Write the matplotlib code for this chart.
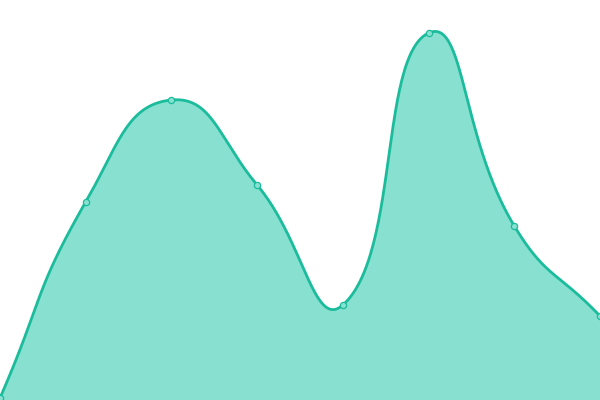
import numpy as np
import matplotlib
matplotlib.use("Agg")
import matplotlib.pyplot as plt

# Data (y-range 0..400)
categories = list(range(8))
values = [2, 198, 300, 215, 95, 367, 174, 84]

LINE = "#1abc9c"
FILL = "#88e0d0"

W, H = 600, 400
fig = plt.figure(figsize=(W / 100, H / 100), dpi=100)
ax = fig.add_axes([0, 0, 1, 1])
ax.set_xlim(0, len(categories) - 1)
ax.set_ylim(0, 400)
ax.axis("off")

# Smooth curve (ECharts-like bezier smoothing) computed in pixel space
px = np.array([ax.transData.transform((c, v)) for c, v in zip(categories, values)])
smooth = 0.5
n = len(px)
cps = []
for i in range(n):
    p = px[i]
    prev = px[i - 1] if i > 0 else p
    nxt = px[i + 1] if i < n - 1 else p
    v = (nxt - prev) * smooth
    d0 = np.linalg.norm(p - prev)
    d1 = np.linalg.norm(nxt - p)
    s = d0 + d1
    if s > 0:
        d0 /= s
        d1 /= s
    cps.append((p - v * d0, p + v * d1))

curve = []
for i in range(n - 1):
    p0 = px[i]
    c1 = cps[i][1]
    c2 = cps[i + 1][0]
    p3 = px[i + 1]
    t = np.linspace(0, 1, 60)[:, None]
    seg = ((1 - t) ** 3) * p0 + 3 * ((1 - t) ** 2) * t * c1 + 3 * (1 - t) * t ** 2 * c2 + t ** 3 * p3
    curve.append(seg if i == 0 else seg[1:])
curve = np.vstack(curve)
inv = ax.transData.inverted()
cd = inv.transform(curve)

ax.fill_between(cd[:, 0], cd[:, 1], 0, color=FILL, lw=0, zorder=1)
ax.plot(cd[:, 0], cd[:, 1], color=LINE, lw=2.0, zorder=2, solid_capstyle="round")
ax.plot(categories, values, "o", ms=4.5, mfc=FILL, mec=LINE, mew=0.9, zorder=3, clip_on=False)

fig.savefig("out.png", dpi=100)
